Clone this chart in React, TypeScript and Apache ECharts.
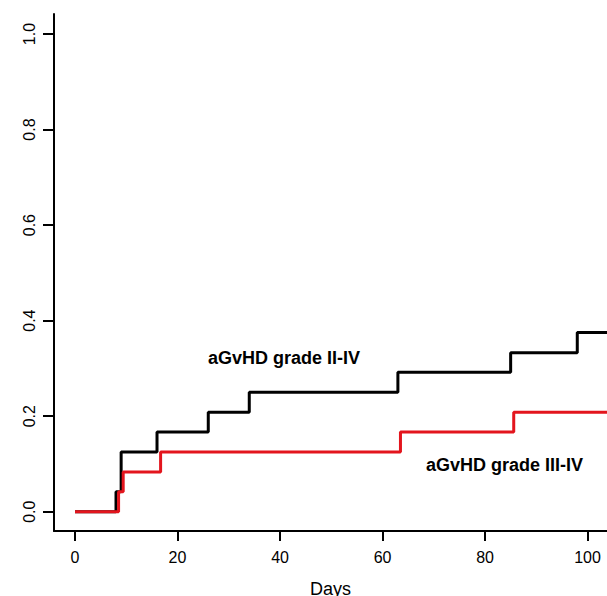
import React, { useEffect, useRef } from "react";
import * as echarts from "echarts";

// Cumulative incidence step data (days, cumulative incidence)
const gradeIIIVDays = [0, 8, 9, 16, 26, 34, 63, 85, 98, 110];
const gradeIIIVValues = [0, 0.042, 0.125, 0.167, 0.208, 0.25, 0.292, 0.333, 0.375, 0.375];

const gradeIIIIVDays = [0, 8.5, 9.4, 16.7, 63.5, 85.6, 110];
const gradeIIIIVValues = [0, 0.042, 0.083, 0.125, 0.167, 0.208, 0.208];

const xTicks = [0, 20, 40, 60, 80, 100];
const yTicks = [0, 0.2, 0.4, 0.6, 0.8, 1.0];

const labelII = "aGvHD grade II-IV";
const labelIII = "aGvHD grade III-IV";
const xTitle = "Days";

const FONT = "'Liberation Sans', Arial, Helvetica, sans-serif";

export default function App() {
  const ref = useRef<HTMLDivElement>(null);

  useEffect(() => {
    if (!ref.current) return;
    const chart = echarts.init(ref.current, null, { renderer: "svg" });

    const black = gradeIIIVDays.map((d, i) => [d, gradeIIIVValues[i]]);
    const red = gradeIIIIVDays.map((d, i) => [d, gradeIIIIVValues[i]]);

    chart.setOption({
      animation: false,
      backgroundColor: "#ffffff",
      grid: {
        left: 54,
        top: 14,
        right: 0,
        bottom: 65,
        containLabel: false,
        outerBoundsMode: "none",
      },
      xAxis: {
        type: "value",
        min: -4.1,
        max: 103.8,
        name: xTitle,
        nameLocation: "middle",
        nameGap: 49,
        nameTextStyle: { fontSize: 18, color: "#000", fontFamily: FONT },
        axisLine: { onZero: false, lineStyle: { color: "#000", width: 2 } },
        axisTick: {
          show: true,
          length: 10,
          customValues: xTicks,
          lineStyle: { color: "#000", width: 2 },
        },
        axisLabel: {
          customValues: xTicks,
          fontSize: 16,
          color: "#000",
          fontFamily: FONT,
          margin: 18,
        },
        splitLine: { show: false },
      },
      yAxis: {
        type: "value",
        min: -0.0404,
        max: 1.042,
        axisLine: { show: true, onZero: false, lineStyle: { color: "#000", width: 2 } },
        axisTick: {
          show: true,
          length: 11,
          customValues: yTicks,
          lineStyle: { color: "#000", width: 2 },
        },
        axisLabel: {
          customValues: yTicks,
          rotate: 90,
          fontSize: 16,
          color: "#000",
          fontFamily: FONT,
          margin: 17,
          formatter: (v: number) => v.toFixed(1),
        },
        splitLine: { show: false },
      },
      series: [
        {
          type: "line",
          step: "end",
          data: black,
          symbol: "none",
          lineStyle: { color: "#000000", width: 3 },
        },
        {
          type: "line",
          step: "end",
          data: red,
          symbol: "none",
          lineStyle: { color: "#e3151d", width: 3 },
        },
      ],
      graphic: [
        {
          type: "text",
          x: 208,
          y: 358,
          style: {
            text: labelII,
            fontSize: 18,
            fontWeight: "bold",
            fontFamily: FONT,
            fill: "#000",
            verticalAlign: "middle",
          },
        },
        {
          type: "text",
          x: 426,
          y: 465,
          style: {
            text: labelIII,
            fontSize: 18,
            fontWeight: "bold",
            fontFamily: FONT,
            fill: "#000",
            verticalAlign: "middle",
          },
        },
      ],
    });

    return () => chart.dispose();
  }, []);

  return (
    <div
      ref={ref}
      style={{ position: "fixed", left: 0, top: 0, width: 607, height: 596, background: "#fff" }}
    />
  );
}
